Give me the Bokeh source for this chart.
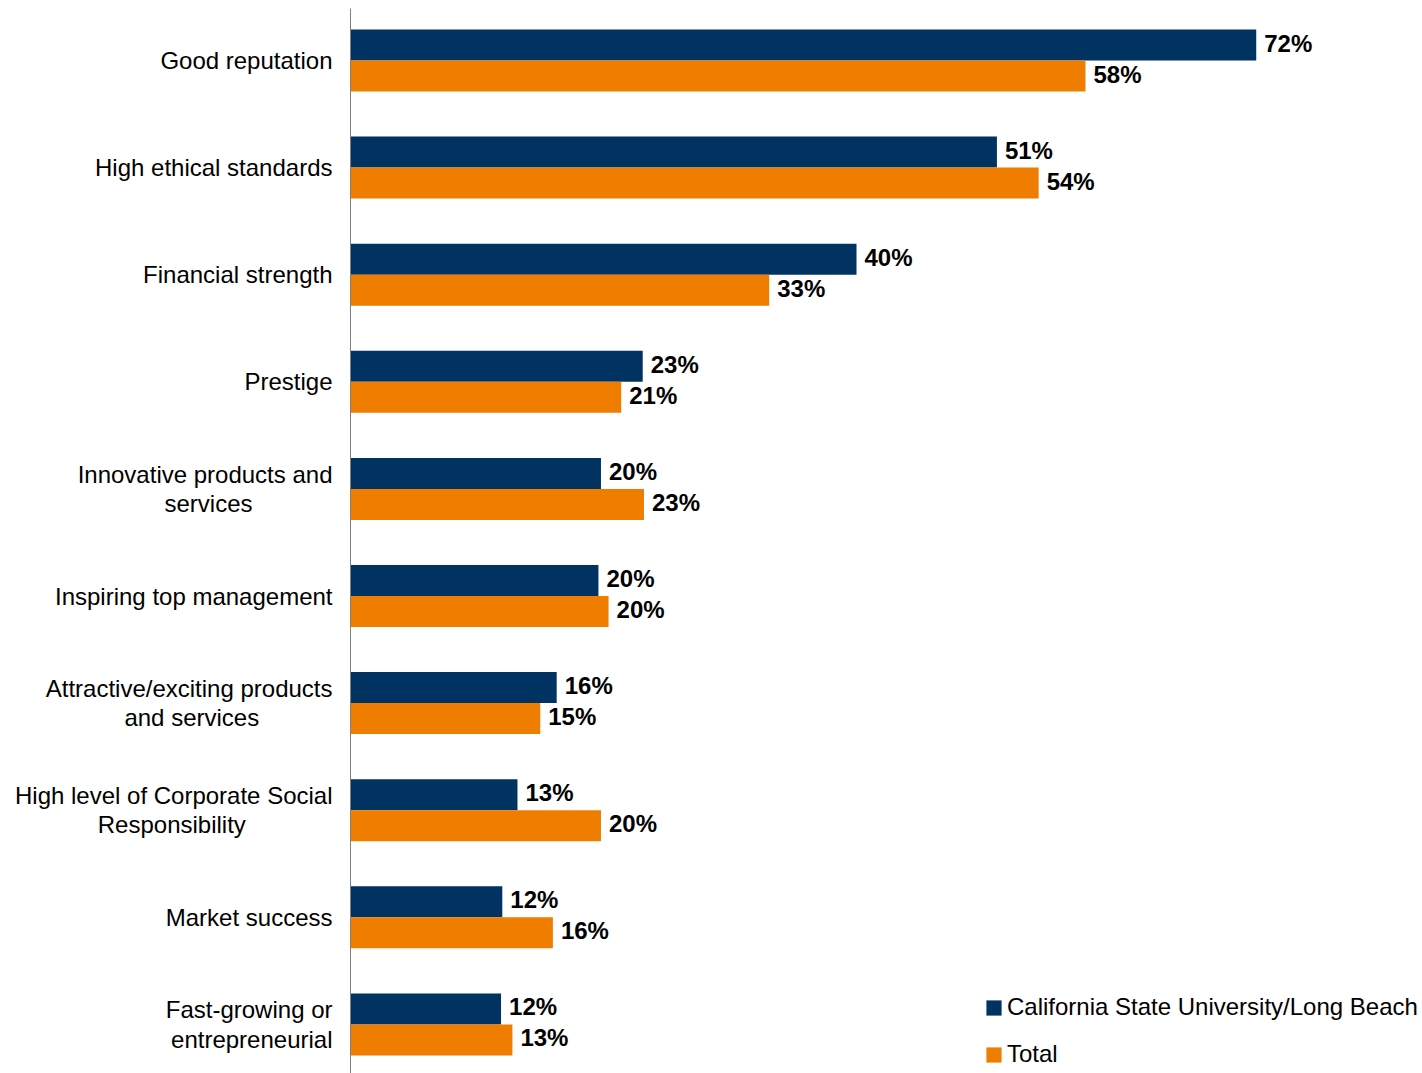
from bokeh.plotting import figure
from bokeh.models import Range1d, FixedTicker, ColumnDataSource, LabelSet, Legend, LegendItem
from bokeh.core.properties import value
from bokeh.transform import dodge
from bokeh.embed import file_html
from bokeh.resources import INLINE

categories = [
    "Good reputation",
    "High ethical standards",
    "Financial strength",
    "Prestige",
    "Innovative products and\nservices",
    "Inspiring top management",
    "Attractive/exciting products\nand services",
    "High level of Corporate Social\nResponsibility",
    "Market success",
    "Fast-growing or\nentrepreneurial",
]
csulb = [71.6, 51.1, 40.0, 23.1, 19.8, 19.6, 16.3, 13.2, 12.0, 11.9]
total = [58.1, 54.4, 33.1, 21.4, 23.2, 20.4, 15.0, 19.8, 16.0, 12.8]
csulb_labels = ["72%", "51%", "40%", "23%", "20%", "20%", "16%", "13%", "12%", "12%"]
total_labels = ["58%", "54%", "33%", "21%", "23%", "20%", "15%", "20%", "16%", "13%"]
series_names = ["California State University/Long Beach", "Total"]
colors = ["#003361", "#EF7D00"]

FONT = "Liberation Sans"
pos = list(range(len(categories)))

src = ColumnDataSource(dict(
    pos=pos, csulb=csulb, total=total,
    csulb_lab=csulb_labels, total_lab=total_labels,
))

W, H = 1422, 1073
LEFT = 350
TOP = 8
px_per_unit = 12.65
frame_w = W - LEFT
frame_h = H - TOP
pitch = 107.1
top_off = 52.0

p = figure(
    width=W, height=H,
    x_range=Range1d(0, frame_w / px_per_unit),
    y_range=Range1d((frame_h - top_off) / pitch, -top_off / pitch),
    output_backend="svg", toolbar_location=None,
    x_axis_location=None,
    min_border_left=LEFT, min_border_right=0, min_border_top=TOP, min_border_bottom=0,
)
p.outline_line_color = None
p.xgrid.visible = False
p.ygrid.visible = False
p.background_fill_color = "white"

bh = 31.0 / pitch
off = bh / 2

r1 = p.hbar(y=dodge("pos", -off, range=p.y_range), right="csulb", left=0, height=bh,
            source=src, fill_color=colors[0], line_color=None)
r2 = p.hbar(y=dodge("pos", off, range=p.y_range), right="total", left=0, height=bh,
            source=src, fill_color=colors[1], line_color=None)

for col, lab, o in [("csulb", "csulb_lab", -off), ("total", "total_lab", off)]:
    ls = LabelSet(x=col, y=dodge("pos", o, range=p.y_range), text=lab, source=src,
                  x_offset=8, y_offset=2, text_baseline="middle", text_align="left",
                  text_font=value(FONT), text_font_style="bold", text_font_size="24px",
                  text_color="black")
    p.add_layout(ls)

# visually centre the shorter second line of two-line names (right-aligned tick labels)
second_line_pad = {4: 12, 6: 11, 7: 13}
def tick_text(i, c):
    if i in second_line_pad:
        a, b = c.split("\n")
        return a + "\n" + b + "\u00a0" * second_line_pad[i]
    return c

ax = p.yaxis[0]
ax.ticker = FixedTicker(ticks=pos)
ax.major_label_overrides = {i: tick_text(i, c) for i, c in zip(pos, categories)}
ax.major_tick_line_color = None
ax.minor_tick_line_color = None
ax.axis_line_color = "#7f7f7f"
ax.axis_line_width = 1
ax.major_label_standoff = 12
ax.major_label_text_font = FONT
ax.major_label_text_font_size = "24px"
ax.major_label_text_color = "black"
ax.major_label_text_line_height = 1.09

legend = Legend(items=[LegendItem(label=series_names[0], renderers=[r1]),
                       LegendItem(label=series_names[1], renderers=[r2])],
                location=(634, 5))
legend.glyph_width = 19
legend.glyph_height = 19
legend.label_height = 28
legend.spacing = 19
legend.label_standoff = 4
legend.padding = 0
legend.margin = 0
legend.border_line_color = None
legend.background_fill_alpha = 0
legend.label_text_font = FONT
legend.label_text_font_size = "24px"
legend.label_text_color = "black"
p.add_layout(legend, "center")

open("out.html", "w").write(file_html(p, INLINE))
